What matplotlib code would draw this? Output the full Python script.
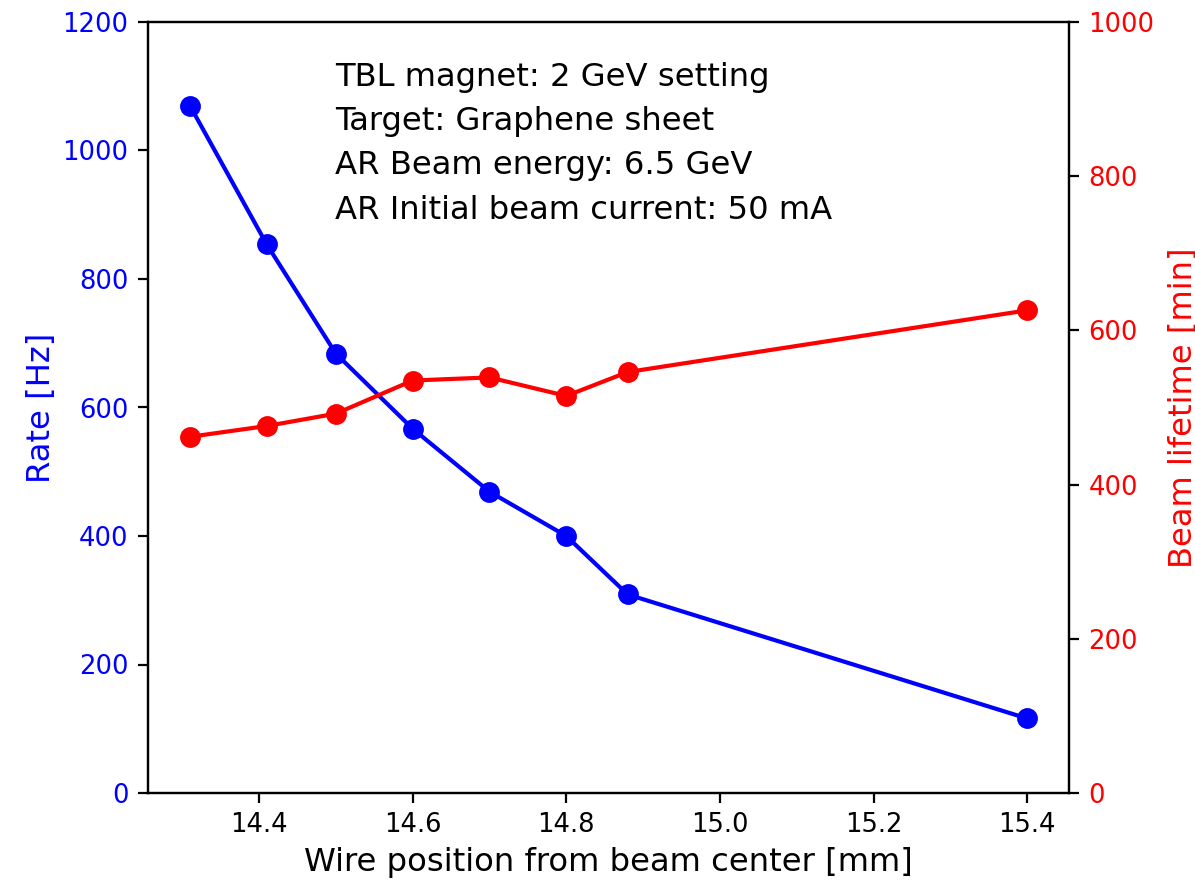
import matplotlib
matplotlib.use('Agg')
import matplotlib.pyplot as plt

# wire position [mm]
wire_pos = [14.31, 14.41, 14.5, 14.6, 14.7, 14.8, 14.88, 15.4]
# counting rate [Hz]
rate = [1070, 854, 684, 567, 469, 400, 309, 116]
# beam lifetime [min]
lifetime = [462, 476, 492, 535, 539, 515, 546, 626]

info = ('TBL magnet: 2 GeV setting\n'
        'Target: Graphene sheet\n'
        'AR Beam energy: 6.5 GeV\n'
        'AR Initial beam current: 50 mA')

fig = plt.figure(figsize=(5.975, 4.4), dpi=200)
ax1 = fig.add_axes([148 / 1195, 87 / 880, 921 / 1195, 771 / 880])

ax1.plot(wire_pos, rate, 'o-', color='blue', markersize=6.5)
ax1.set_ylim(0, 1200)
ax1.set_xlabel('Wire position from beam center [mm]', fontsize=11.6, labelpad=3)
ax1.set_ylabel('Rate [Hz]', color='blue', fontsize=11.6, labelpad=2)
ax1.tick_params(axis='y', labelcolor='blue', labelsize=9.3)
ax1.tick_params(axis='x', labelsize=9.3)

ax2 = ax1.twinx()
ax2.plot(wire_pos, lifetime, 'o-', color='red', markersize=6.5)
ax2.set_ylim(0, 1000)
ax2.set_ylabel('Beam lifetime [min]', color='red', fontsize=11.6, labelpad=5)
ax2.tick_params(axis='y', labelcolor='red', labelsize=9.3)

ax1.text(0.203, 0.948, info, transform=ax1.transAxes, va='top', ha='left',
         fontsize=11.6, linespacing=1.55)

fig.savefig('out.png', dpi=200)
